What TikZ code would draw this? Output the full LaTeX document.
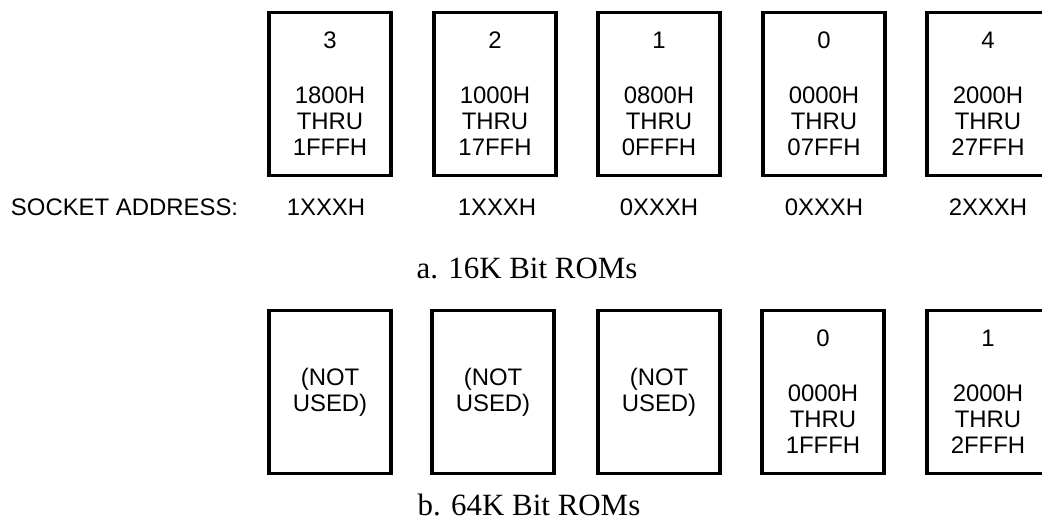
\documentclass[tikz,border=0pt]{standalone}
\usepackage{fontspec}
\setmainfont{Liberation Serif}
\setsansfont{Liberation Sans}
\usetikzlibrary{positioning}
\tikzset{
x=0.025cm, y=-0.025cm, % one unit is one pixel of the reference
rom/.style={draw, line width=2.6pt, minimum width=3.05cm, minimum height=4.08cm, inner sep=0pt, align=center, font=\sffamily\fontsize{17}{18.5}\selectfont}, % a ROM socket
sock/.style={font=\sffamily\fontsize{17}{20}\selectfont}, % socket address text
caption/.style={font=\fontsize{22}{26}\selectfont}, % caption under each row
}

\begin{document}
\begin{tikzpicture}
\useasboundingbox (0,0) rectangle (1042,521);

% a. 16K bit ROMs
\node[rom] at (330,94) (a3) {3\\[20.6pt]1800H\\THRU\\1FFFH};
\node[rom] at (495,94) (a2) {2\\[20.6pt]1000H\\THRU\\17FFH};
\node[rom] at (659,94) (a1) {1\\[20.6pt]0800H\\THRU\\0FFFH};
\node[rom] at (824,94) (a0) {0\\[20.6pt]0000H\\THRU\\07FFH};
\node[rom] at (988,94) (a4) {4\\[20.6pt]2000H\\THRU\\27FFH};

\node[sock, anchor=west] at (6,207) (socklabel) {SOCKET ADDRESS:};
\node[sock] at (326,207) (s3) {1XXXH};
\node[sock] at (497,207) (s2) {1XXXH};
\node[sock] at (659,207) (s1) {0XXXH};
\node[sock] at (824,207) (s0) {0XXXH};
\node[sock] at (988,207) (s4) {2XXXH};

\node[caption] at (527,268) (capa) {a. 16K Bit ROMs};

% b. 64K bit ROMs
\node[rom] at (330,392) (b3) {(NOT\\USED)};
\node[rom] at (493,392) (b2) {(NOT\\USED)};
\node[rom] at (659,392) (b1) {(NOT\\USED)};
\node[rom] at (823,392) (b0) {0\\[20.6pt]0000H\\THRU\\1FFFH};
\node[rom] at (988,392) (b4) {1\\[20.6pt]2000H\\THRU\\2FFFH};

\node[caption] at (529,505) (capb) {b. 64K Bit ROMs};
\end{tikzpicture}
\end{document}
